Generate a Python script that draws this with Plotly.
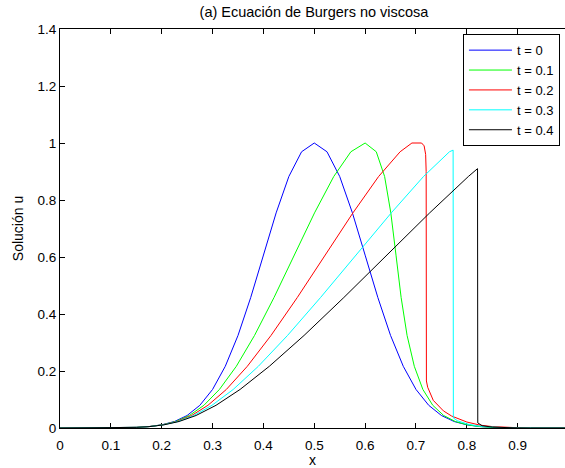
import plotly.graph_objects as go

# ---- data ----
x_t0 = [0.000, 0.025, 0.050, 0.075, 0.100, 0.125, 0.150, 0.175, 0.200, 0.225,
        0.250, 0.275, 0.300, 0.325, 0.350, 0.375, 0.400, 0.425, 0.450, 0.475,
        0.500, 0.525, 0.550, 0.575, 0.600, 0.625, 0.650, 0.675, 0.700, 0.725,
        0.750, 0.775, 0.800, 0.825, 0.850, 0.875, 0.900, 0.925, 0.950, 0.975, 1.000]
u_t0 = [0.0000, 0.0000, 0.0000, 0.0001, 0.0003, 0.0009, 0.0022, 0.0051, 0.0111, 0.0228,
        0.0439, 0.0796, 0.1353, 0.2165, 0.3247, 0.4578, 0.6065, 0.7548, 0.8825, 0.9692,
        1.0000, 0.9692, 0.8825, 0.7548, 0.6065, 0.4578, 0.3247, 0.2165, 0.1353, 0.0796,
        0.0439, 0.0228, 0.0111, 0.0051, 0.0022, 0.0009, 0.0003, 0.0001, 0.0000, 0.0000, 0.0000]

x_t1 = [0.000, 0.025, 0.050, 0.075, 0.100, 0.1251, 0.1502, 0.1755, 0.2011, 0.2273,
        0.2544, 0.2830, 0.3135, 0.3467, 0.3825, 0.4208, 0.4607, 0.5005, 0.5383, 0.5719,
        0.6000, 0.6219, 0.6383, 0.6505, 0.6607, 0.6708, 0.6825, 0.6967, 0.7135, 0.7330,
        0.7544, 0.7773, 0.8011, 0.8255, 0.8502, 0.8751, 0.9000, 0.925, 0.950, 0.975, 1.000]
u_t1 = [0.0000, 0.0000, 0.0000, 0.0001, 0.0003, 0.0009, 0.0022, 0.0051, 0.0111, 0.0228,
        0.0439, 0.0796, 0.1353, 0.2165, 0.3247, 0.4578, 0.6065, 0.7548, 0.8825, 0.9692,
        1.0000, 0.9692, 0.8825, 0.7548, 0.6065, 0.4578, 0.3247, 0.2165, 0.1353, 0.0796,
        0.0439, 0.0228, 0.0111, 0.0051, 0.0022, 0.0009, 0.0003, 0.0001, 0.0000, 0.0000, 0.0000]

x_t2 = [0.000, 0.025, 0.050, 0.075, 0.1001, 0.1252, 0.1504, 0.1760, 0.2022, 0.2296,
        0.2588, 0.2909, 0.3271, 0.3683, 0.4149, 0.4666, 0.5213, 0.5760, 0.6265, 0.6688,
        0.692, 0.711, 0.716, 0.719, 0.720, 0.7205, 0.723, 0.734, 0.754, 0.770,
        0.800, 0.826, 0.850, 0.875, 0.900, 0.925, 0.950, 0.975, 1.000]
u_t2 = [0.0000, 0.0000, 0.0000, 0.0001, 0.0003, 0.0009, 0.0022, 0.0051, 0.0111, 0.0228,
        0.0439, 0.0796, 0.1353, 0.2165, 0.3247, 0.4578, 0.6065, 0.7548, 0.8825, 0.9692,
        1.000, 1.000, 0.990, 0.960, 0.900, 0.165, 0.143, 0.097, 0.060, 0.042,
        0.021, 0.010, 0.005, 0.002, 0.001, 0.000, 0.000, 0.000, 0.000]

x_t3 = [0.000, 0.025, 0.050, 0.075, 0.1001, 0.1253, 0.1507, 0.1765, 0.2033, 0.2318,
        0.2632, 0.2989, 0.3406, 0.3900, 0.4474, 0.5123, 0.5820, 0.6514, 0.7148, 0.7658,
        0.7730, 0.7735, 0.782, 0.8033, 0.8265, 0.8507, 0.8753, 0.900, 0.925, 0.950, 0.975, 1.000]
u_t3 = [0.0000, 0.0000, 0.0000, 0.0001, 0.0003, 0.0009, 0.0022, 0.0051, 0.0111, 0.0228,
        0.0439, 0.0796, 0.1353, 0.2165, 0.3247, 0.4578, 0.6065, 0.7548, 0.8825, 0.9692,
        0.975, 0.035, 0.025, 0.013, 0.006, 0.0025, 0.001, 0.0003, 0.000, 0.000, 0.000, 0.000]

x_t4 = [0.000, 0.025, 0.050, 0.075, 0.1001, 0.1254, 0.1509, 0.1770, 0.2044, 0.2341,
        0.2676, 0.3068, 0.3541, 0.4116, 0.4799, 0.5581, 0.6426, 0.7269, 0.8030,
        0.821, 0.8215, 0.830, 0.851, 0.8754, 0.900, 0.925, 0.950, 0.975, 1.000]
u_t4 = [0.0000, 0.0000, 0.0000, 0.0001, 0.0003, 0.0009, 0.0022, 0.0051, 0.0111, 0.0228,
        0.0439, 0.0796, 0.1353, 0.2165, 0.3247, 0.4578, 0.6065, 0.7548, 0.8825,
        0.910, 0.018, 0.008, 0.003, 0.001, 0.0003, 0.000, 0.000, 0.000, 0.000]

names = ["t = 0", "t = 0.1", "t = 0.2", "t = 0.3", "t = 0.4"]
colors = ["#0000ff", "#00ff00", "#ff0000", "#00ffff", "#000000"]
xs = [x_t0, x_t1, x_t2, x_t3, x_t4]
us = [u_t0, u_t1, u_t2, u_t3, u_t4]

x_ticks = [0, 0.1, 0.2, 0.3, 0.4, 0.5, 0.6, 0.7, 0.8, 0.9]
x_ticktext = ["0", "0.1", "0.2", "0.3", "0.4", "0.5", "0.6", "0.7", "0.8", "0.9"]
y_ticks = [0, 0.2, 0.4, 0.6, 0.8, 1.0, 1.2, 1.4]
y_ticktext = ["0", "0.2", "0.4", "0.6", "0.8", "1", "1.2", "1.4"]

FONT = "Liberation Sans, Arial, Helvetica, sans-serif"

fig = go.Figure()
for x, u, n, c in zip(xs, us, names, colors):
    fig.add_trace(go.Scatter(x=x, y=u, mode="lines", name=n,
                             line=dict(color=c, width=1)))

fig.update_layout(
    width=565, height=468,
    margin=dict(l=60, r=0, t=29, b=40, autoexpand=False),
    paper_bgcolor="white", plot_bgcolor="white",
    font=dict(family=FONT, size=13.5, color="black"),
    title=dict(text="(a) Ecuación de Burgers no viscosa",
               x=314/565, xref="container", xanchor="center",
               y=1 - 12/468, yref="container", yanchor="middle",
               font=dict(size=14.5, color="black")),
    showlegend=True,
    legend=dict(x=0.990, y=0.987, xanchor="right", yanchor="top",
                bgcolor="white", bordercolor="black", borderwidth=1,
                itemwidth=43,
                font=dict(size=13, color="black"), tracegroupgap=0),
    xaxis=dict(range=[0, 0.993], tickvals=x_ticks, ticktext=x_ticktext,
               showgrid=False, zeroline=False, showline=True, linecolor="black",
               linewidth=1, mirror="ticks", ticks="inside", ticklen=5,
               tickcolor="black", layer="below traces", ticklabelstandoff=5,
               automargin=False,
               title=dict(text="x", standoff=6, font=dict(size=14))),
    yaxis=dict(range=[0, 1.4], tickvals=y_ticks, ticktext=y_ticktext,
               showgrid=False, zeroline=False, showline=True, linecolor="black",
               linewidth=1, mirror=False, ticks="inside", ticklen=5,
               tickcolor="black", layer="below traces", automargin=False,
               title=dict(text="Solución u", standoff=10, font=dict(size=14))),
)

fig.write_html("out.html",
               config={"displayModeBar": False},
               post_script="document.body.style.margin='0';document.body.style.overflow='hidden';")
